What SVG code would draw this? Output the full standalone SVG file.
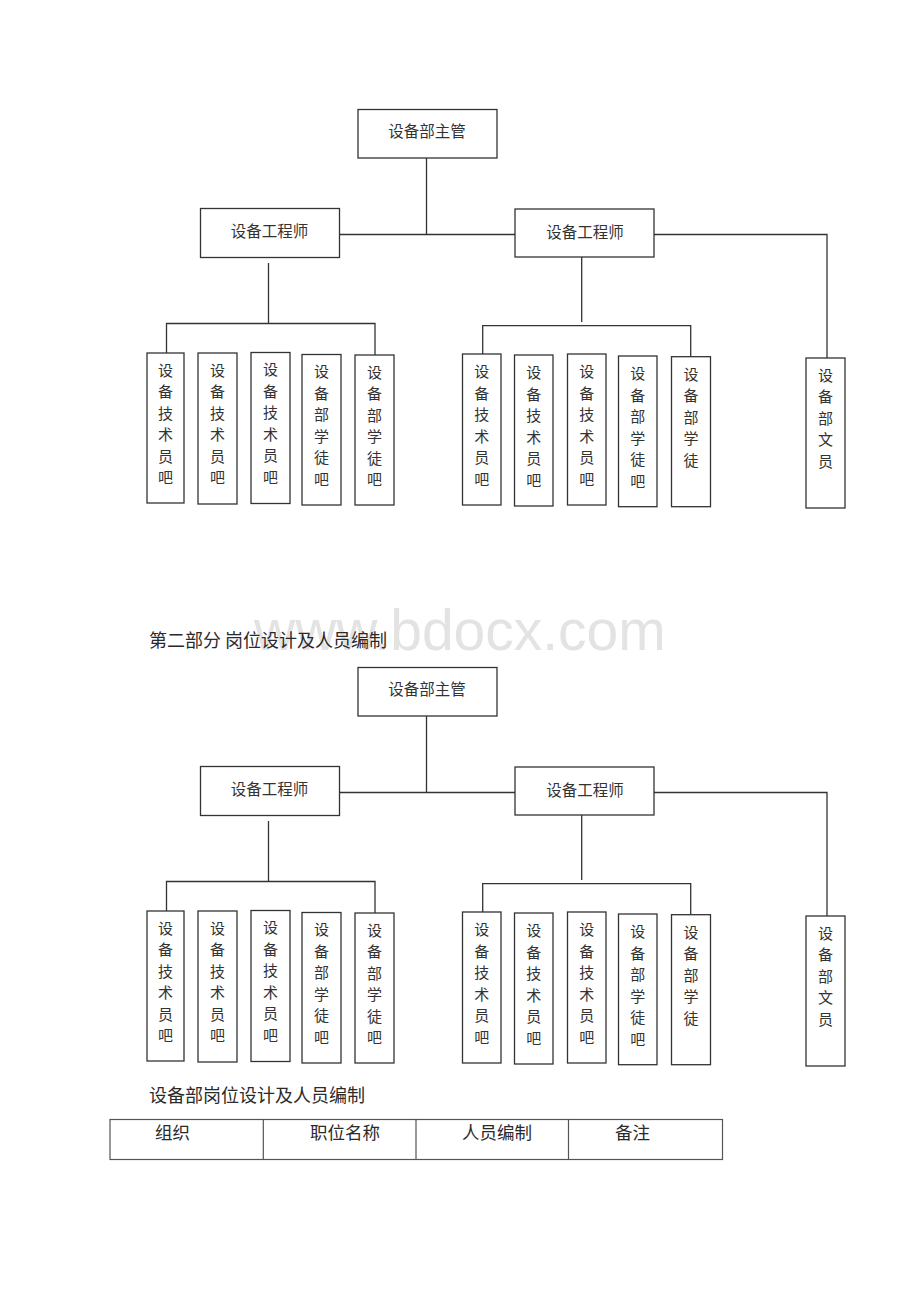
<svg xmlns="http://www.w3.org/2000/svg" width="920" height="1302" viewBox="0 0 920 1302">
<style>
.bg{fill:#ffffff}
.box{fill:#ffffff;stroke:#333333;stroke-width:1.3}
.conn{fill:none;stroke:#333333;stroke-width:1.3}
.h{font-family:"Noto Sans CJK SC","Noto Sans",sans-serif;font-size:15.5px;fill:#333333;text-anchor:middle}
.v{font-family:"Noto Sans CJK SC","Noto Sans",sans-serif;font-size:15px;fill:#333333;text-anchor:middle}
.title{font-family:"Noto Sans CJK SC","Noto Sans",sans-serif;font-size:18px;fill:#2a2a2a}
.cell{font-family:"Noto Sans CJK SC","Noto Sans",sans-serif;font-size:17.5px;fill:#2a2a2a}
.wm{font-family:"Liberation Sans",Arial,sans-serif;font-size:57px;fill:#e3e3e3}
.tbl{fill:none;stroke:#555555;stroke-width:1.2}
</style>
<rect class="bg" x="0" y="0" width="920" height="1302"/>

<!-- ===== Chart 1 ===== -->
<g id="connectors-1">
<path class="conn" d="M426.5,158 V234.5 M339,234.5 H515 M654,234.5 H827 V358"/>
<path class="conn" d="M268.5,263 V323.5 M166.5,353 V323.5 H375 V355"/>
<path class="conn" d="M581.7,257 V322 M482.7,354 V325.7 H690.7 V356.7"/>
</g>
<g id="n1-head"><rect class="box" x="358" y="109.5" width="139" height="48.5"/><text class="h" x="427" y="137">设备部主管</text></g>
<g id="n1-eng-left"><rect class="box" x="200.5" y="208.5" width="139" height="49"/><text class="h" x="269.5" y="237">设备工程师</text></g>
<g id="n1-eng-right"><rect class="box" x="515" y="209" width="139" height="48"/><text class="h" x="585" y="238">设备工程师</text></g>

<g id="n1-l1"><rect class="box" x="147" y="353" width="37" height="150"/><text class="v" x="165.5" y="375.5"><tspan x="165.5">设</tspan><tspan x="165.5" dy="21.5">备</tspan><tspan x="165.5" dy="21.5">技</tspan><tspan x="165.5" dy="21.5">术</tspan><tspan x="165.5" dy="21.5">员</tspan><tspan x="165.5" dy="21.5">吧</tspan></text></g>
<g id="n1-l2"><rect class="box" x="198" y="353" width="39" height="151"/><text class="v" x="217.5" y="375.5"><tspan x="217.5">设</tspan><tspan x="217.5" dy="21.5">备</tspan><tspan x="217.5" dy="21.5">技</tspan><tspan x="217.5" dy="21.5">术</tspan><tspan x="217.5" dy="21.5">员</tspan><tspan x="217.5" dy="21.5">吧</tspan></text></g>
<g id="n1-l3"><rect class="box" x="251" y="352.5" width="39" height="151"/><text class="v" x="270.5" y="375"><tspan x="270.5">设</tspan><tspan x="270.5" dy="21.5">备</tspan><tspan x="270.5" dy="21.5">技</tspan><tspan x="270.5" dy="21.5">术</tspan><tspan x="270.5" dy="21.5">员</tspan><tspan x="270.5" dy="21.5">吧</tspan></text></g>
<g id="n1-l4"><rect class="box" x="302" y="354.5" width="39" height="150.5"/><text class="v" x="321.5" y="377"><tspan x="321.5">设</tspan><tspan x="321.5" dy="21.5">备</tspan><tspan x="321.5" dy="21.5">部</tspan><tspan x="321.5" dy="21.5">学</tspan><tspan x="321.5" dy="21.5">徒</tspan><tspan x="321.5" dy="21.5">吧</tspan></text></g>
<g id="n1-l5"><rect class="box" x="355" y="355" width="39" height="150"/><text class="v" x="374.5" y="377.5"><tspan x="374.5">设</tspan><tspan x="374.5" dy="21.5">备</tspan><tspan x="374.5" dy="21.5">部</tspan><tspan x="374.5" dy="21.5">学</tspan><tspan x="374.5" dy="21.5">徒</tspan><tspan x="374.5" dy="21.5">吧</tspan></text></g>

<g id="n1-r1"><rect class="box" x="462.5" y="354" width="38.5" height="151"/><text class="v" x="481.7" y="377"><tspan x="481.7">设</tspan><tspan x="481.7" dy="21.5">备</tspan><tspan x="481.7" dy="21.5">技</tspan><tspan x="481.7" dy="21.5">术</tspan><tspan x="481.7" dy="21.5">员</tspan><tspan x="481.7" dy="21.5">吧</tspan></text></g>
<g id="n1-r2"><rect class="box" x="514.5" y="355" width="38.5" height="151"/><text class="v" x="533.7" y="378"><tspan x="533.7">设</tspan><tspan x="533.7" dy="21.5">备</tspan><tspan x="533.7" dy="21.5">技</tspan><tspan x="533.7" dy="21.5">术</tspan><tspan x="533.7" dy="21.5">员</tspan><tspan x="533.7" dy="21.5">吧</tspan></text></g>
<g id="n1-r3"><rect class="box" x="567.5" y="354" width="38.5" height="151"/><text class="v" x="586.7" y="377"><tspan x="586.7">设</tspan><tspan x="586.7" dy="21.5">备</tspan><tspan x="586.7" dy="21.5">技</tspan><tspan x="586.7" dy="21.5">术</tspan><tspan x="586.7" dy="21.5">员</tspan><tspan x="586.7" dy="21.5">吧</tspan></text></g>
<g id="n1-r4"><rect class="box" x="618.5" y="356" width="38.5" height="150.7"/><text class="v" x="637.7" y="379"><tspan x="637.7">设</tspan><tspan x="637.7" dy="21.5">备</tspan><tspan x="637.7" dy="21.5">部</tspan><tspan x="637.7" dy="21.5">学</tspan><tspan x="637.7" dy="21.5">徒</tspan><tspan x="637.7" dy="21.5">吧</tspan></text></g>
<g id="n1-r5"><rect class="box" x="671.5" y="356.7" width="39" height="150"/><text class="v" x="691" y="379.5"><tspan x="691">设</tspan><tspan x="691" dy="21.5">备</tspan><tspan x="691" dy="21.5">部</tspan><tspan x="691" dy="21.5">学</tspan><tspan x="691" dy="21.5">徒</tspan></text></g>
<g id="n1-clerk"><rect class="box" x="806" y="358" width="39" height="150"/><text class="v" x="825.5" y="380.5"><tspan x="825.5">设</tspan><tspan x="825.5" dy="21.5">备</tspan><tspan x="825.5" dy="21.5">部</tspan><tspan x="825.5" dy="21.5">文</tspan><tspan x="825.5" dy="21.5">员</tspan></text></g>

<!-- watermark and section title -->
<text class="wm" x="254" y="650">www.bdocx.com</text>
<text class="title" x="149" y="646.5">第二部分 岗位设计及人员编制</text>

<!-- ===== Chart 2 ===== -->
<g transform="translate(0,558)">
<g id="connectors-2">
<path class="conn" d="M426.5,158 V234.5 M339,234.5 H515 M654,234.5 H827 V358"/>
<path class="conn" d="M268.5,263 V323.5 M166.5,353 V323.5 H375 V355"/>
<path class="conn" d="M581.7,257 V322 M482.7,354 V325.7 H690.7 V356.7"/>
</g>
<g id="n2-head"><rect class="box" x="358" y="109.5" width="139" height="48.5"/><text class="h" x="427" y="137">设备部主管</text></g>
<g id="n2-eng-left"><rect class="box" x="200.5" y="208.5" width="139" height="49"/><text class="h" x="269.5" y="237">设备工程师</text></g>
<g id="n2-eng-right"><rect class="box" x="515" y="209" width="139" height="48"/><text class="h" x="585" y="238">设备工程师</text></g>

<g id="n2-l1"><rect class="box" x="147" y="353" width="37" height="150"/><text class="v" x="165.5" y="375.5"><tspan x="165.5">设</tspan><tspan x="165.5" dy="21.5">备</tspan><tspan x="165.5" dy="21.5">技</tspan><tspan x="165.5" dy="21.5">术</tspan><tspan x="165.5" dy="21.5">员</tspan><tspan x="165.5" dy="21.5">吧</tspan></text></g>
<g id="n2-l2"><rect class="box" x="198" y="353" width="39" height="151"/><text class="v" x="217.5" y="375.5"><tspan x="217.5">设</tspan><tspan x="217.5" dy="21.5">备</tspan><tspan x="217.5" dy="21.5">技</tspan><tspan x="217.5" dy="21.5">术</tspan><tspan x="217.5" dy="21.5">员</tspan><tspan x="217.5" dy="21.5">吧</tspan></text></g>
<g id="n2-l3"><rect class="box" x="251" y="352.5" width="39" height="151"/><text class="v" x="270.5" y="375"><tspan x="270.5">设</tspan><tspan x="270.5" dy="21.5">备</tspan><tspan x="270.5" dy="21.5">技</tspan><tspan x="270.5" dy="21.5">术</tspan><tspan x="270.5" dy="21.5">员</tspan><tspan x="270.5" dy="21.5">吧</tspan></text></g>
<g id="n2-l4"><rect class="box" x="302" y="354.5" width="39" height="150.5"/><text class="v" x="321.5" y="377"><tspan x="321.5">设</tspan><tspan x="321.5" dy="21.5">备</tspan><tspan x="321.5" dy="21.5">部</tspan><tspan x="321.5" dy="21.5">学</tspan><tspan x="321.5" dy="21.5">徒</tspan><tspan x="321.5" dy="21.5">吧</tspan></text></g>
<g id="n2-l5"><rect class="box" x="355" y="355" width="39" height="150"/><text class="v" x="374.5" y="377.5"><tspan x="374.5">设</tspan><tspan x="374.5" dy="21.5">备</tspan><tspan x="374.5" dy="21.5">部</tspan><tspan x="374.5" dy="21.5">学</tspan><tspan x="374.5" dy="21.5">徒</tspan><tspan x="374.5" dy="21.5">吧</tspan></text></g>

<g id="n2-r1"><rect class="box" x="462.5" y="354" width="38.5" height="151"/><text class="v" x="481.7" y="377"><tspan x="481.7">设</tspan><tspan x="481.7" dy="21.5">备</tspan><tspan x="481.7" dy="21.5">技</tspan><tspan x="481.7" dy="21.5">术</tspan><tspan x="481.7" dy="21.5">员</tspan><tspan x="481.7" dy="21.5">吧</tspan></text></g>
<g id="n2-r2"><rect class="box" x="514.5" y="355" width="38.5" height="151"/><text class="v" x="533.7" y="378"><tspan x="533.7">设</tspan><tspan x="533.7" dy="21.5">备</tspan><tspan x="533.7" dy="21.5">技</tspan><tspan x="533.7" dy="21.5">术</tspan><tspan x="533.7" dy="21.5">员</tspan><tspan x="533.7" dy="21.5">吧</tspan></text></g>
<g id="n2-r3"><rect class="box" x="567.5" y="354" width="38.5" height="151"/><text class="v" x="586.7" y="377"><tspan x="586.7">设</tspan><tspan x="586.7" dy="21.5">备</tspan><tspan x="586.7" dy="21.5">技</tspan><tspan x="586.7" dy="21.5">术</tspan><tspan x="586.7" dy="21.5">员</tspan><tspan x="586.7" dy="21.5">吧</tspan></text></g>
<g id="n2-r4"><rect class="box" x="618.5" y="356" width="38.5" height="150.7"/><text class="v" x="637.7" y="379"><tspan x="637.7">设</tspan><tspan x="637.7" dy="21.5">备</tspan><tspan x="637.7" dy="21.5">部</tspan><tspan x="637.7" dy="21.5">学</tspan><tspan x="637.7" dy="21.5">徒</tspan><tspan x="637.7" dy="21.5">吧</tspan></text></g>
<g id="n2-r5"><rect class="box" x="671.5" y="356.7" width="39" height="150"/><text class="v" x="691" y="379.5"><tspan x="691">设</tspan><tspan x="691" dy="21.5">备</tspan><tspan x="691" dy="21.5">部</tspan><tspan x="691" dy="21.5">学</tspan><tspan x="691" dy="21.5">徒</tspan></text></g>
<g id="n2-clerk"><rect class="box" x="806" y="358" width="39" height="150"/><text class="v" x="825.5" y="380.5"><tspan x="825.5">设</tspan><tspan x="825.5" dy="21.5">备</tspan><tspan x="825.5" dy="21.5">部</tspan><tspan x="825.5" dy="21.5">文</tspan><tspan x="825.5" dy="21.5">员</tspan></text></g>
</g>

<!-- ===== Table ===== -->
<text class="title" x="149" y="1101.5">设备部岗位设计及人员编制</text>
<g id="table">
<rect class="tbl" x="110" y="1119.5" width="612.5" height="40"/>
<path class="tbl" d="M263.3,1119.5 V1159.5 M416,1119.5 V1159.5 M568.5,1119.5 V1159.5"/>
<text class="cell" x="155" y="1139">组织</text>
<text class="cell" x="310" y="1139">职位名称</text>
<text class="cell" x="462" y="1139">人员编制</text>
<text class="cell" x="615" y="1139">备注</text>
</g>
</svg>
